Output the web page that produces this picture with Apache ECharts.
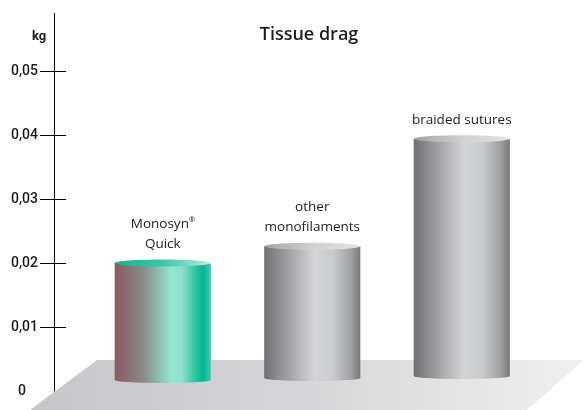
<!DOCTYPE html>
<html>
<head>
<meta charset="utf-8">
<script src="https://cdn.jsdelivr.net/npm/echarts@6/dist/echarts.min.js"></script>
<style>html,body{margin:0;padding:0;background:#fff;}#c{width:584px;height:410px;}</style>
</head>
<body>
<div id="c"></div>
<script>
// ---- data ----
var categories = ['Monosyn®\nQuick', 'other\nmonofilaments', 'braided sutures'];
var values = [0.0200, 0.0226, 0.0394];
var labelTicks = [0, 0.01, 0.02, 0.03, 0.04, 0.05];
var markTicks = [0.01, 0.02, 0.03, 0.04, 0.05];
var chartTitle = 'Tissue drag';
var unitLabel = 'kg';

function lg(stops) {
  return new echarts.graphic.LinearGradient(0, 0, 1, 0, stops.map(function (s) { return { offset: s[0], color: s[1] }; }));
}
var greenBody = [[0, '#8a5a62'], [0.3, '#8b8a88'], [0.58, '#93e4d0'], [0.7, '#8fe0cc'], [0.84, '#2ec4a1'], [0.92, '#00b892'], [1, '#3fcaa9']];
var greenTop = [[0, '#10b48f'], [0.5, '#3cc9a6'], [0.85, '#8fe2cd'], [1, '#c8f2e6']];
var greyBody = [[0, '#6f6f71'], [0.2, '#98989a'], [0.52, '#d3d4d6'], [0.72, '#c9cacc'], [0.9, '#a0a1a3'], [1, '#77787a']];
var greyTop = [[0, '#a4a4a6'], [0.5, '#d0d0d2'], [1, '#e2e2e4']];

var chart = echarts.init(document.getElementById('c'), null, { renderer: 'canvas' });

var fmt = function (v) {
  if (v === 0) return '{z|0}';
  return v.toFixed(2).replace('.', ',');
};

chart.setOption({
  animation: false,
  backgroundColor: '#fff',
  title: [
    { text: chartTitle, left: 304, top: 21, textAlign: 'center',
      textStyle: { fontFamily: 'Open Sans', fontSize: 18, fontWeight: 600, color: '#1e1e1e' } },
    { text: unitLabel, left: 27, top: 25,
      textStyle: { fontFamily: 'Roboto', fontSize: 13, fontWeight: 'bold', color: '#1a1a1a' } }
  ],
  graphic: [{
    type: 'polygon', z: -10, silent: true,
    shape: { points: [[97, 360], [584, 360], [527, 410], [30, 410]] },
    style: { fill: new echarts.graphic.LinearGradient(0, 0, 1, 0, [
      { offset: 0, color: '#c6c6c8' }, { offset: 0.5, color: '#d6d6d8' }, { offset: 1, color: '#f0f0f0' }]) }
  }],
  grid: { left: 88, right: 47.5, top: 13.4, bottom: 19 },
  xAxis: { type: 'category', data: categories, show: false },
  yAxis: [{
    type: 'value', min: 0, max: 0.059, offset: 34, position: 'left',
    splitLine: { show: false },
    axisLine: { show: true, lineStyle: { color: '#000', width: 1 } },
    axisTick: { show: true, length: 14, customValues: markTicks, lineStyle: { color: '#000', width: 1 } },
    axisLabel: { customValues: labelTicks, margin: 16, formatter: fmt,
      fontFamily: 'Roboto', fontSize: 14, fontWeight: 500, color: '#1a1a1a',
      rich: { z: { fontFamily: 'Roboto', fontSize: 14, fontWeight: 500, color: '#1a1a1a', padding: [0, 12, 0, 0] } } }
  }, {
    type: 'value', min: 0, max: 0.059, offset: 34, position: 'left',
    splitLine: { show: false },
    axisLine: { show: false },
    axisTick: { show: true, inside: true, length: 12, customValues: markTicks, lineStyle: { color: '#000', width: 1 } },
    axisLabel: { show: false }
  }],
  series: [{
    type: 'custom', z: 10,
    data: values.map(function (v, i) { return [i, v]; }),
    renderItem: function (params, api) {
      var i = api.value(0);
      var top = api.coord([i, api.value(1)]);
      var zero = api.coord([i, 0]);
      var w = api.size([1, 0])[0] * 0.643;
      var baseY = zero[1] - 11 - i * 2;
      var hl = i === 0;
      var body = lg(hl ? greenBody : greyBody);
      var cap = lg(hl ? greenTop : greyTop);
      var txt = categories[i].split('\n').map(function (line) {
        return line.split('®').map(function (p) { return p ? '{t|' + p + '}' : ''; }).join('{s|®}');
      }).join('\n');
      return {
        type: 'group',
        children: [
          { type: 'rect', shape: { x: top[0] - w / 2, y: top[1], width: w, height: baseY - top[1] }, style: { fill: body } },
          { type: 'ellipse', shape: { cx: top[0], cy: baseY, rx: w / 2, ry: 3 }, style: { fill: body } },
          { type: 'ellipse', shape: { cx: top[0], cy: top[1], rx: w / 2, ry: 3.5 }, style: { fill: cap } },
          { type: 'text', style: { text: txt, x: top[0], y: top[1] - 9, align: 'center', verticalAlign: 'bottom',
              fontFamily: 'Open Sans', fontSize: 13.5, lineHeight: 20, fill: '#222',
              rich: {
                t: { fontFamily: 'Open Sans', fontSize: 13.5, lineHeight: 20, fill: '#222' },
                s: { fontFamily: 'Open Sans', fontSize: 7, lineHeight: 20, fill: '#222', verticalAlign: 'top', padding: [2, 0, 0, 0] }
              } } }
        ]
      };
    }
  }]
});
</script>
</body>
</html>
